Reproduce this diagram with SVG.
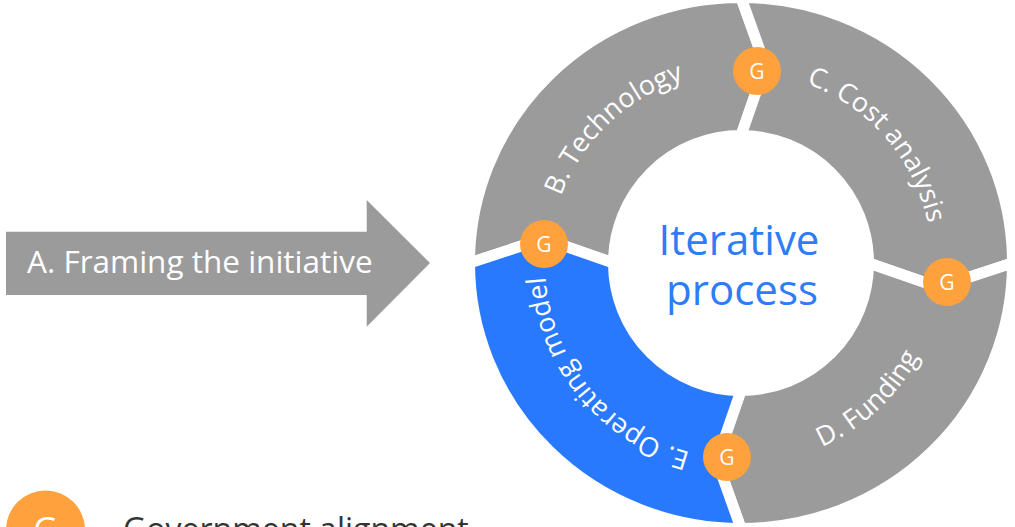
<svg xmlns="http://www.w3.org/2000/svg" width="1015" height="527" viewBox="0 0 1015 527">
<style>
  text { font-family: "Open Sans", "Noto Sans", "Liberation Sans", sans-serif; }
  .seg { stroke: #ffffff; stroke-width: 11; stroke-linejoin: round; }
  .gray { fill: #9b9b9b; }
  .blue { fill: #2979ff; }
  .lbl { fill: #ffffff; font-size: 27px; text-anchor: middle; }
  .gdot { fill: #ffa13d; }
  .gtxt { fill: #ffffff; font-size: 21px; text-anchor: middle; }
</style>
<defs>
  <path id="pb" d="M554.3,307.8 A192,192 0 0 1 795.5,78.9" fill="none"/>
  <path id="pc" d="M704.6,75.5 A191,191 0 0 1 921.6,325.2" fill="none"/>
  <path id="pd" d="M682.2,455.2 A201,201 0 0 0 936.8,217.8" fill="none"/>
  <path id="pe" d="M773.3,456.3 A196,196 0 0 1 557.4,194.4" fill="none"/>
</defs>
<rect x="0" y="0" width="1015" height="527" fill="#ffffff"/>

<g id="node-a">
  <polygon class="gray" points="6,231.7 366.7,231.7 366.7,200 430,263 366.7,326.7 366.7,295 6,295"/>
  <text x="27" y="273" fill="#ffffff" font-size="31.5">A. Framing the initiative</text>
</g>

<g id="node-b">
  <path class="seg gray" d="M469.5,263 A271.5,265.5 0 0 1 741,-2.5 L765.3,65.5 L741,135.5 A127.5,127.5 0 0 0 613.5,263 L543.5,238.75 Z"/>
  <text class="lbl"><textPath href="#pb" startOffset="50%">B. Technology</textPath></text>
</g>

<g id="node-c">
  <path class="seg gray" d="M741,-2.5 A271.5,265.5 0 0 1 1012.5,263 L938.5,287.3 L868.5,263 A127.5,127.5 0 0 0 741,135.5 L765.3,65.5 Z"/>
  <text class="lbl"><textPath href="#pc" startOffset="50%">C. Cost analysis</textPath></text>
</g>

<g id="node-d">
  <path class="seg gray" d="M1012.5,263 A271.5,265.5 0 0 1 741,528.5 L716.75,460.5 L741,390.5 A127.5,127.5 0 0 0 868.5,263 L938.5,287.3 Z"/>
  <text class="lbl"><textPath href="#pd" startOffset="50%">D. Funding</textPath></text>
</g>

<g id="node-e">
  <path class="seg blue" d="M741,528.5 A271.5,265.5 0 0 1 469.5,263 L543.5,238.75 L613.5,263 A127.5,127.5 0 0 0 741,390.5 L716.75,460.5 Z"/>
  <text class="lbl"><textPath href="#pe" startOffset="50%">E. Operating model</textPath></text>
</g>

<g id="node-center">
  <text x="739" y="255" fill="#2e7cf6" font-size="42" text-anchor="middle">Iterative</text>
  <text x="742" y="305" fill="#2e7cf6" font-size="42" text-anchor="middle">process</text>
</g>

<g id="connectors">
  <g id="gate-bc"><circle class="gdot" cx="757" cy="71" r="24"/><text class="gtxt" x="757" y="78.5">G</text></g>
  <g id="gate-cd"><circle class="gdot" cx="947" cy="282" r="24"/><text class="gtxt" x="947" y="289.5">G</text></g>
  <g id="gate-de"><circle class="gdot" cx="727" cy="457" r="24"/><text class="gtxt" x="727" y="464.5">G</text></g>
  <g id="gate-eb"><circle class="gdot" cx="544" cy="244" r="24"/><text class="gtxt" x="544" y="251.5">G</text></g>
</g>

<g id="legend">
  <circle class="gdot" cx="45.5" cy="530" r="39.5"/>
  <text x="45.5" y="542" fill="#ffffff" font-size="34" text-anchor="middle">G</text>
  <text x="123" y="540.5" fill="#333333" font-size="32">Government alignment</text>
</g>
</svg>
